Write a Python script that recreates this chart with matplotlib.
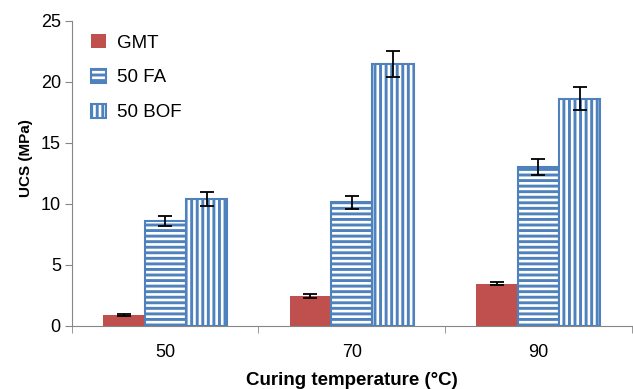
import matplotlib.pyplot as plt
import numpy as np

plt.rcParams['font.family'] = ['Liberation Sans', 'DejaVu Sans']
plt.rcParams['hatch.linewidth'] = 2.1

# data
temps = ['50', '70', '90']
gmt = [0.85, 2.45, 3.45]
gmt_err = [0.08, 0.15, 0.12]
fa = [8.6, 10.1, 13.0]
fa_err = [0.42, 0.55, 0.64]
bof = [10.4, 21.45, 18.6]
bof_err = [0.55, 1.1, 0.95]

red = '#C0504D'
blue = '#4F81BD'
gray = '#868686'

fig = plt.figure(figsize=(6.33, 3.89), dpi=100)
ax = fig.add_axes([0.1137, 0.1627, 0.884, 0.7841])

x = np.arange(len(temps))
w = 0.222
err_kw = dict(ecolor='black', elinewidth=1.3, capsize=5, capthick=1.3)

ax.bar(x - w, gmt, w, yerr=gmt_err, color=red, label='GMT', error_kw=err_kw, zorder=2)
ax.bar(x, fa, w, yerr=fa_err, facecolor='white', edgecolor=blue, hatch='---',
       linewidth=1.5, label='50 FA', error_kw=err_kw, zorder=2)
ax.bar(x + w, bof, w, yerr=bof_err, facecolor='white', edgecolor=blue, hatch='|||',
       linewidth=1.5, label='50 BOF', error_kw=err_kw, zorder=2)

ax.set_xlim(-0.5, 2.5)
ax.set_ylim(0, 25)
ax.set_yticks(range(0, 26, 5))
ax.set_xticks(x)
ax.set_xticklabels(temps)
ax.set_xticks([-0.5, 0.5, 1.5, 2.5], minor=True)
ax.tick_params(axis='x', which='major', length=0, pad=13, labelsize=13)
ax.tick_params(axis='x', which='minor', length=5, color=gray, direction='out')
ax.tick_params(axis='y', length=5, color=gray, labelsize=13, pad=3)

for side in ['top', 'right']:
    ax.spines[side].set_visible(False)
ax.spines['left'].set_color(gray)
ax.spines['bottom'].set_color(gray)

ax.set_xlabel('Curing temperature (°C)', fontsize=13.5, fontweight='bold', labelpad=8)
ax.set_ylabel('UCS (MPa)', fontsize=11, fontweight='bold')
ax.yaxis.set_label_coords(-0.07, 0.55)

ax.legend(loc='upper left', frameon=False, fontsize=13.5, handlelength=0.8,
          handleheight=0.8, labelspacing=0.92, handletextpad=0.55,
          borderaxespad=0.3, bbox_to_anchor=(0.011, 1.0))

fig.savefig('out.png', dpi=100)
